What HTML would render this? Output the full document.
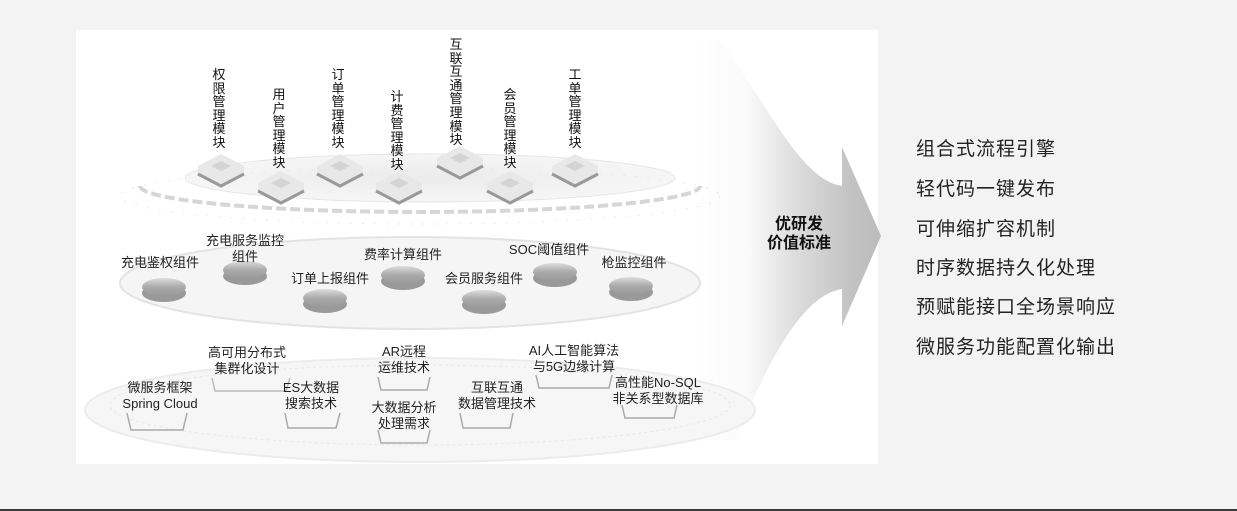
<!DOCTYPE html>
<html><head><meta charset="utf-8"><style>
html,body{margin:0;padding:0;}
body{width:1237px;height:511px;background:#f4f3f3;position:relative;overflow:hidden;font-family:"Liberation Sans","Noto Sans CJK SC",sans-serif;}
.t{position:absolute;color:#222;font-size:13px;line-height:16px;text-align:center;white-space:nowrap;transform:translateX(-50%);}
.v{position:absolute;color:#111;font-size:13px;line-height:13.6px;width:16px;text-align:center;transform:translateX(-50%);}
.r{position:absolute;left:916px;font-size:19px;color:#222;line-height:22px;letter-spacing:1px;}
</style></head><body>
<svg width="1237" height="511" style="position:absolute;left:0;top:0">
<defs>
<linearGradient id="ag" x1="0" y1="0" x2="1" y2="0">
<stop offset="0" stop-color="#fff"/><stop offset="0.3" stop-color="#fafafa"/><stop offset="0.6" stop-color="#d8d8d8"/><stop offset="0.85" stop-color="#c2c2c2"/><stop offset="1" stop-color="#bcbcbc"/></linearGradient>
<linearGradient id="dg" x1="0" y1="0" x2="0" y2="1"><stop offset="0" stop-color="#ddd"/><stop offset="0.5" stop-color="#aaa"/><stop offset="1" stop-color="#999"/></linearGradient>
<radialGradient id="eg" cx="0.5" cy="0.5" r="0.5"><stop offset="0" stop-color="#ebebeb"/><stop offset="1" stop-color="#f6f6f6"/></radialGradient>
</defs>
<rect x="76" y="30" width="802" height="434" fill="#fff"/>
<path d="M720,40 C765,100 800,180 842,186 L842,147 L881,236 L842,326 L842,289 C800,295 765,370 735,440 L690,440 L690,40 Z" fill="url(#ag)"/>
<ellipse cx="430" cy="178" rx="245" ry="24" fill="url(#eg)" stroke="#e6e6e6"/>
<path d="M140,186 A280 26 0 0 0 700,186" fill="none" stroke="#d6d6d6" stroke-width="4" stroke-dasharray="10 4"/>
<ellipse cx="420" cy="196" rx="300" ry="28" fill="none" stroke="#e8e8e8" stroke-width="1" stroke-dasharray="2 10"/>
<ellipse cx="410" cy="283" rx="290" ry="46" fill="#f5f5f5" stroke="#e3e3e3" stroke-width="2"/>
<ellipse cx="420" cy="410" rx="335" ry="52" fill="#f6f6f6" stroke="#ececec" stroke-width="2"/>
<ellipse cx="420" cy="405" rx="310" ry="40" fill="none" stroke="#e8e8e8" stroke-dasharray="3 3"/>
<g>
<g transform="translate(221,160)"><path d="M-23,6 L0,-6 L23,6 L23,14 L0,26 L-23,14Z" fill="#e8e8e8"/><path d="M-23,14 L0,26 L23,14" fill="none" stroke="#999" stroke-width="3"/><path d="M-10,6 L0,1 L10,6 L0,11Z" fill="#d4d4d4"/></g>
<g transform="translate(281,177)"><path d="M-23,6 L0,-6 L23,6 L23,14 L0,26 L-23,14Z" fill="#e8e8e8"/><path d="M-23,14 L0,26 L23,14" fill="none" stroke="#999" stroke-width="3"/><path d="M-10,6 L0,1 L10,6 L0,11Z" fill="#d4d4d4"/></g>
<g transform="translate(340,160)"><path d="M-23,6 L0,-6 L23,6 L23,14 L0,26 L-23,14Z" fill="#e8e8e8"/><path d="M-23,14 L0,26 L23,14" fill="none" stroke="#999" stroke-width="3"/><path d="M-10,6 L0,1 L10,6 L0,11Z" fill="#d4d4d4"/></g>
<g transform="translate(399,177)"><path d="M-23,6 L0,-6 L23,6 L23,14 L0,26 L-23,14Z" fill="#e8e8e8"/><path d="M-23,14 L0,26 L23,14" fill="none" stroke="#999" stroke-width="3"/><path d="M-10,6 L0,1 L10,6 L0,11Z" fill="#d4d4d4"/></g>
<g transform="translate(460,152)"><path d="M-23,6 L0,-6 L23,6 L23,14 L0,26 L-23,14Z" fill="#e8e8e8"/><path d="M-23,14 L0,26 L23,14" fill="none" stroke="#999" stroke-width="3"/><path d="M-10,6 L0,1 L10,6 L0,11Z" fill="#d4d4d4"/></g>
<g transform="translate(510,177)"><path d="M-23,6 L0,-6 L23,6 L23,14 L0,26 L-23,14Z" fill="#e8e8e8"/><path d="M-23,14 L0,26 L23,14" fill="none" stroke="#999" stroke-width="3"/><path d="M-10,6 L0,1 L10,6 L0,11Z" fill="#d4d4d4"/></g>
<g transform="translate(575,160)"><path d="M-23,6 L0,-6 L23,6 L23,14 L0,26 L-23,14Z" fill="#e8e8e8"/><path d="M-23,14 L0,26 L23,14" fill="none" stroke="#999" stroke-width="3"/><path d="M-10,6 L0,1 L10,6 L0,11Z" fill="#d4d4d4"/></g>
</g>
<g>
<g transform="translate(164,287)"><ellipse cx="0" cy="6" rx="22" ry="9" fill="#999"/><ellipse cx="0" cy="0" rx="22" ry="9" fill="url(#dg)"/></g>
<g transform="translate(245,270)"><ellipse cx="0" cy="6" rx="22" ry="9" fill="#999"/><ellipse cx="0" cy="0" rx="22" ry="9" fill="url(#dg)"/></g>
<g transform="translate(325,298)"><ellipse cx="0" cy="6" rx="22" ry="9" fill="#999"/><ellipse cx="0" cy="0" rx="22" ry="9" fill="url(#dg)"/></g>
<g transform="translate(403,275)"><ellipse cx="0" cy="6" rx="22" ry="9" fill="#999"/><ellipse cx="0" cy="0" rx="22" ry="9" fill="url(#dg)"/></g>
<g transform="translate(484,299)"><ellipse cx="0" cy="6" rx="22" ry="9" fill="#999"/><ellipse cx="0" cy="0" rx="22" ry="9" fill="url(#dg)"/></g>
<g transform="translate(555,272)"><ellipse cx="0" cy="6" rx="22" ry="9" fill="#999"/><ellipse cx="0" cy="0" rx="22" ry="9" fill="url(#dg)"/></g>
<g transform="translate(631,286)"><ellipse cx="0" cy="6" rx="22" ry="9" fill="#999"/><ellipse cx="0" cy="0" rx="22" ry="9" fill="url(#dg)"/></g>
</g>
<g fill="none" stroke="#aaa" stroke-width="1.5">
<path d="M127,413 L131,430 L183,430 L187,413"/>
<path d="M212,378 L215,391 L286,391 L290,378" stroke="#bbb"/>
<path d="M285,413 L288,428 L336,428 L340,413"/>
<path d="M378,377 L381,390 L427,390 L430,377"/>
<path d="M378,430 L381,443 L427,443 L430,430"/>
<path d="M460,413 L463,428 L510,428 L513,413"/>
<path d="M536,375 L539,388 L609,388 L612,375"/>
<path d="M622,405 L625,418 L674,418 L677,405"/>
</g>
<rect x="0" y="509" width="1237" height="2" fill="#3a3a3a"/>
</svg>
<div class="v" style="left:219px;top:68px">权限管理模块</div>
<div class="v" style="left:279px;top:88px">用户管理模块</div>
<div class="v" style="left:338px;top:68px">订单管理模块</div>
<div class="v" style="left:397px;top:90px">计费管理模块</div>
<div class="v" style="left:456px;top:38px">互联互通管理模块</div>
<div class="v" style="left:510px;top:88px">会员管理模块</div>
<div class="v" style="left:575px;top:68px">工单管理模块</div>
<div class="t" style="left:160px;top:255px">充电鉴权组件</div>
<div class="t" style="left:245px;top:233px">充电服务监控<br>组件</div>
<div class="t" style="left:330px;top:271px">订单上报组件</div>
<div class="t" style="left:403px;top:247px">费率计算组件</div>
<div class="t" style="left:484px;top:271px">会员服务组件</div>
<div class="t" style="left:549px;top:242px">SOC阈值组件</div>
<div class="t" style="left:634px;top:255px">枪监控组件</div>
<div class="t" style="left:160px;top:380px">微服务框架<br>Spring Cloud</div>
<div class="t" style="left:247px;top:345px">高可用分布式<br>集群化设计</div>
<div class="t" style="left:311px;top:380px">ES大数据<br>搜索技术</div>
<div class="t" style="left:404px;top:344px">AR远程<br>运维技术</div>
<div class="t" style="left:404px;top:400px">大数据分析<br>处理需求</div>
<div class="t" style="left:497px;top:380px">互联互通<br>数据管理技术</div>
<div class="t" style="left:574px;top:343px">AI人工智能算法<br>与5G边缘计算</div>
<div class="t" style="left:658px;top:375px">高性能No-SQL<br>非关系型数据库</div>
<div class="t" style="left:799px;top:215px;font-size:16px;line-height:19px;font-weight:bold;color:#111">优研发<br>价值标准</div>
<div class="r" style="top:139px">组合式流程引擎</div>
<div class="r" style="top:179px">轻代码一键发布</div>
<div class="r" style="top:219px">可伸缩扩容机制</div>
<div class="r" style="top:258px">时序数据持久化处理</div>
<div class="r" style="top:297px">预赋能接口全场景响应</div>
<div class="r" style="top:337px">微服务功能配置化输出</div>
</body></html>
